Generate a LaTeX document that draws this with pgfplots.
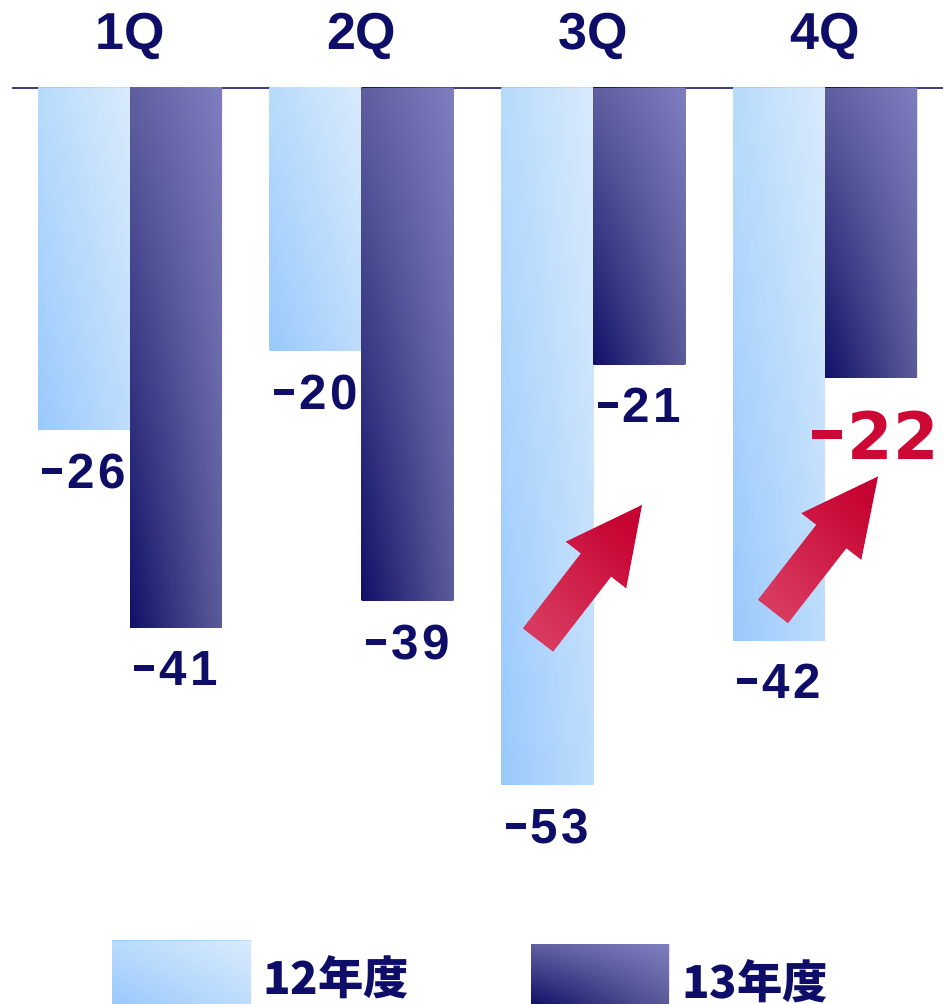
\documentclass[border=0pt]{standalone}
\usepackage{pgfplots}
\pgfplotsset{compat=1.18}
\usetikzlibrary{fadings}
\usepackage{fontspec}
\setmainfont{Liberation Sans}
\newfontfamily\cjk{Noto Sans CJK JP}
\newfontfamily\djv{DejaVu Sans}
\definecolor{navy}{RGB}{14,14,104}
\definecolor{lbTL}{RGB}{184,220,252}
\definecolor{lbTR}{RGB}{218,235,253}
\definecolor{lbBL}{RGB}{154,201,252}
\definecolor{lbBR}{RGB}{190,221,252}
\definecolor{dbTL}{RGB}{95,95,160}
\definecolor{dbTR}{RGB}{126,126,192}
\definecolor{dbBL}{RGB}{16,16,104}
\definecolor{dbBR}{RGB}{92,92,154}
\definecolor{redT}{RGB}{206,8,52}
\definecolor{arL}{RGB}{216,57,95}
\definecolor{arD}{RGB}{198,4,50}
\newcommand\lab{\bfseries\fontsize{37}{37}\selectfont\addfontfeatures{LetterSpace=7}}
\newcommand\mn{\rule[11pt]{15pt}{4.5pt}\hspace{4pt}}
\newcommand\redlab[1]{\hspace*{6pt}\raisebox{-7pt}[\height][\depth]{\color{redT}\djv\bfseries\fontsize{49}{49}\selectfont\rule[15.5pt]{22.5pt}{6.75pt}\hspace{4.5pt}#1}}
% one bar of 12年度: x, value, label
\newcommand\lightbar[3]{%
  \addplot[draw=none, bar shift=-0.1985, left color=lbBL, right color=lbBR, nodes near coords]
    coordinates {(#1,#2) [#3]};
  \addplot[draw=none, bar shift=-0.1985, left color=lbTL, right color=lbTR, path fading=south]
    coordinates {(#1,#2)};}
% one bar of 13年度
\newcommand\darkbar[3]{%
  \addplot[draw=none, bar shift=0.1985, left color=dbBL, right color=dbBR, nodes near coords]
    coordinates {(#1,#2) [#3]};
  \addplot[draw=none, bar shift=0.1985, left color=dbTL, right color=dbTR, path fading=south]
    coordinates {(#1,#2)};}
\begin{document}
\begin{tikzpicture}
\useasboundingbox (-9pt,0pt) rectangle (698.25pt,753pt);
\begin{axis}[
  at={(0,0)}, anchor=south west,
  scale only axis, width=698.25pt, height=687pt,
  xmin=-0.5093, xmax=3.5089, ymin=-69.66, ymax=0,
  axis x line*=top, axis y line=none,
  x axis line style={draw=navy!80, line width=1.2pt},
  xtick={0,1,2,3}, xticklabels={1Q,2Q,3Q,4Q},
  major tick length=0pt,
  xticklabel style={anchor=base, inner sep=0pt, yshift=28.5pt, text=navy, font=\bfseries\fontsize{39}{39}\selectfont},
  ytick=\empty,
  ybar=0pt, bar width=0.397,
  clip=false,
  point meta=explicit symbolic,
  every node near coord/.append style={anchor=north, inner sep=0pt, yshift=-18pt, text=navy, font=\lab},
]
% 12年度
\lightbar{0}{-26}{\mn26}
\lightbar{1}{-20}{\mn20}
\lightbar{2}{-53}{\mn53}
\lightbar{3}{-42}{\mn42}
% 13年度
\darkbar{0}{-41}{\mn41}
\darkbar{1}{-39}{\mn39}
\darkbar{2}{-21}{\mn21}
\darkbar{3}{-22}{\redlab{22}}
\end{axis}
\begin{scope}[x=0.75pt,y=-0.75pt,shift={(-9pt,753pt)}]
\shade[top color=arD, bottom color=arL, shading angle=-45] (553.1,651.6) -- (611.1,576.6) -- (626.2,588.3) -- (642,505) -- (565.8,541.7) -- (580.9,553.4) -- (522.9,628.4) -- cycle;
\shade[top color=arD, bottom color=arL, shading angle=-45] (788,623.2) -- (846.3,548.2) -- (861.3,559.8) -- (878,476.5) -- (801.3,513.2) -- (816.3,524.8) -- (758,599.8) -- cycle;
\shade[left color=lbBL, right color=lbBR] (112,941) rectangle (251,1004);
\shade[left color=lbTL, right color=lbTR, path fading=south] (112,941) rectangle (251,1004);
\shade[left color=dbBL, right color=dbBR] (531,945) rectangle (669,1004);
\shade[left color=dbTL, right color=dbTR, path fading=south] (531,945) rectangle (669,1004);
\node[anchor=base west, inner sep=0pt, text=navy] at (263,994) {\cjk\bfseries\fontsize{34}{34}\selectfont 12年度};
\node[anchor=base west, inner sep=0pt, text=navy] at (682,998) {\cjk\bfseries\fontsize{34}{34}\selectfont 13年度};
\end{scope}
\end{tikzpicture}
\end{document}
